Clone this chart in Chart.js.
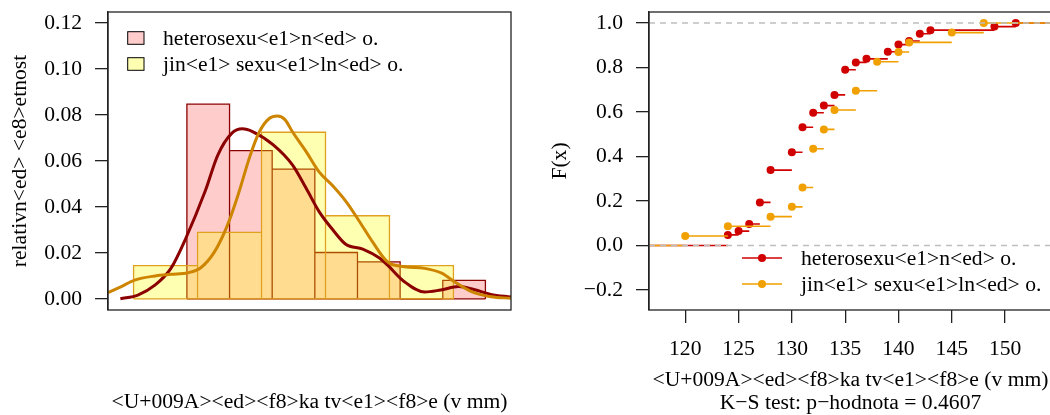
<!DOCTYPE html>
<html><head><meta charset="utf-8">
<script src="https://cdn.jsdelivr.net/npm/chart.js@4.4.1/dist/chart.umd.min.js"></script>
<style>
html,body{margin:0;padding:0;overflow:hidden;background:#fff;width:1050px;height:415px;position:relative;}
#left{position:absolute;left:0;top:0;}
#right{position:absolute;left:525px;top:0;}
</style></head><body>
<canvas id="left" width="525" height="415"></canvas>
<canvas id="right" width="540" height="415"></canvas>
<script>
// ---------- data ----------
const histRedBreaks = [124,128,132,136,140,144,148,152];
const histRedDensity = [0.0847,0.0645,0.0565,0.0202,0.0161,0,0.0081];
const histYelBreaks = [119,125,131,137,143,149];
const histYelDensity = [0.0145,0.0290,0.0725,0.0362,0.0145];

const densRedX = [117.76,119.4,121.0,122.5,123.9,125.7,126.9,128.2,129.2,130.2,132.1,133.9,135.2,136.4,137.7,138.9,140.5,142.1,142.8,144.4,146.3,147.8,149.5,151.0,152.5,154.4];
const densRedY = [0.0001,0.0017,0.006,0.0133,0.0264,0.0467,0.0626,0.072,0.0740,0.0727,0.067,0.0583,0.048,0.038,0.030,0.0238,0.0217,0.0177,0.0148,0.0075,0.0030,0.0039,0.0054,0.0040,0.0020,0.0008];
const densYelX = [116.6,117.85,119.1,121.0,122.5,124.1,125.3,126.6,127.8,128.8,129.9,130.8,131.75,132.5,133.2,133.9,135.2,136.4,137.7,139.0,140.2,141.4,142.8,144.4,146.3,147.9,149.1,150.7,152.5,154.4];
const densYelY = [0.0027,0.0054,0.0082,0.0100,0.0107,0.0114,0.0136,0.0206,0.0320,0.0452,0.0619,0.0727,0.0786,0.0796,0.0780,0.0727,0.0640,0.0553,0.0491,0.0419,0.0336,0.0249,0.0162,0.0140,0.0133,0.0112,0.0075,0.0032,0.0010,0.0003];

const ecdfRedX = [124,125,126,127,128,130,131,132,133,134,135,136,137,139,140,141,142,143,149,151];
const ecdfRedF = [0.048,0.065,0.097,0.194,0.339,0.419,0.532,0.597,0.629,0.677,0.790,0.823,0.839,0.871,0.903,0.919,0.952,0.968,0.984,1.0];
const ecdfYelX = [120,124,128,130,131,132,133,134,136,138,140,141,145,148];
const ecdfYelF = [0.043,0.087,0.130,0.174,0.261,0.435,0.522,0.609,0.696,0.826,0.870,0.913,0.957,1.0];

const refLevels = [0, 1];
const seriesNames = ['heterosexu<e1>n<ed> o.', 'jin<e1> sexu<e1>ln<ed> o.'];

const leftYTicks = [0,0.02,0.04,0.06,0.08,0.10,0.12];
const leftYTickLabels = ['0.00','0.02','0.04','0.06','0.08','0.10','0.12'];
const rightYTicks = [-0.2,0,0.2,0.4,0.6,0.8,1.0];
const rightYTickLabels = ['\u22120.2','0.0','0.2','0.4','0.6','0.8','1.0'];
const rightXTicks = [120,125,130,135,140,145,150];
const rightXTickLabels = ['120','125','130','135','140','145','150'];

const xTitle = '<U+009A><ed><f8>ka tv<e1><f8>e (v mm)';
const leftYTitle = 'relativn<ed> <e8>etnost';
const rightYTitle = 'F(x)';
const ksText = 'K\u2212S test: p\u2212hodnota = 0.4607';

// ---------- styling / layout ----------
const XMIN = 116.6, XMAX = 154.4;
const FS = 21.6;
const FAM = '"Liberation Serif", "Times New Roman", serif';
Chart.defaults.font.family = FAM;
Chart.defaults.font.size = FS;
Chart.defaults.font.lineHeight = 1.0;
Chart.defaults.color = '#000';

const RED_FILL = 'rgba(255,0,0,0.2)', RED_BORDER = '#8B0000';
const YEL_FILL = 'rgba(255,255,0,0.3)', YEL_BORDER = '#E0A020';
const RED_DENS = '#8B0000', YEL_DENS = '#CD8500';
const ECDF_RED = '#D00000', ECDF_YEL = '#F0A000';
const AXIS = '#222';

function histPoints(breaks, dens) {
  const pts = [];
  for (let i = 0; i < dens.length; i++) {
    const a = breaks[i], b = breaks[i+1], h = dens[i];
    pts.push({x:a,y:0},{x:a,y:h},{x:b,y:h},{x:b,y:0},{x:b,y:null});
  }
  return pts;
}
function baselinePoints(breaks) {
  return [{x:breaks[0],y:0},{x:breaks[breaks.length-1],y:0}];
}
function curvePoints(xs, ys) { return xs.map((x,i) => ({x:x, y:ys[i]})); }
function ecdfSegments(xs, fs) {
  const pts = [{x:XMIN,y:0},{x:xs[0],y:0},{x:xs[0],y:null}];
  for (let i = 0; i < xs.length; i++) {
    const end = i + 1 < xs.length ? xs[i+1] : XMAX;
    pts.push({x:xs[i],y:fs[i]},{x:end,y:fs[i]},{x:end,y:null});
  }
  return pts;
}
function ecdfPoints(xs, fs) { return xs.map((x,i) => ({x:x, y:fs[i]})); }
function refPoints(levels) {
  const pts = [];
  levels.forEach(l => pts.push({x:XMIN,y:l},{x:XMAX,y:l},{x:XMAX,y:null}));
  return pts;
}
function noPad(s) { s.paddingTop = 0; s.paddingBottom = 0; s.paddingLeft = 0; s.paddingRight = 0; }

const boxPlugin = {
  id: 'plotbox',
  afterDraw(chart) {
    const {ctx, chartArea:a} = chart;
    ctx.save();
    ctx.strokeStyle = AXIS; ctx.lineWidth = 1.3;
    ctx.strokeRect(a.left, a.top, a.right - a.left, a.bottom - a.top);
    ctx.restore();
  }
};

const leftLegend = {
  id: 'leftLegend',
  afterDraw(chart) {
    const {ctx, chartArea:a} = chart;
    const fills = [RED_FILL, YEL_FILL];
    ctx.save();
    ctx.font = FS + 'px ' + FAM;
    ctx.textBaseline = 'middle'; ctx.textAlign = 'left';
    [26, 52].forEach((dy, i) => {
      const cy = a.top + dy;
      ctx.fillStyle = '#fff';
      ctx.fillRect(a.left + 19.7, cy - 6.3, 16.3, 12.6);
      ctx.fillStyle = fills[i];
      ctx.fillRect(a.left + 19.7, cy - 6.3, 16.3, 12.6);
      ctx.strokeStyle = '#000'; ctx.lineWidth = 1;
      ctx.strokeRect(a.left + 19.7, cy - 6.3, 16.3, 12.6);
      ctx.fillStyle = '#000';
      ctx.fillText(seriesNames[i], a.left + 55, cy + 1);
    });
    ctx.restore();
  }
};

const rightLegend = {
  id: 'rightLegend',
  afterDraw(chart) {
    const {ctx, chartArea:a} = chart;
    const cols = [ECDF_RED, ECDF_YEL];
    ctx.save();
    ctx.font = FS + 'px ' + FAM;
    ctx.textBaseline = 'middle'; ctx.textAlign = 'left';
    [246, 272].forEach((dy, i) => {
      const cy = a.top + dy;
      ctx.strokeStyle = cols[i]; ctx.lineWidth = 1.5;
      ctx.beginPath(); ctx.moveTo(a.left + 93, cy); ctx.lineTo(a.left + 133, cy); ctx.stroke();
      ctx.fillStyle = cols[i];
      ctx.beginPath(); ctx.arc(a.left + 113, cy, 4, 0, Math.PI*2); ctx.fill();
      ctx.fillStyle = '#000';
      ctx.fillText(seriesNames[i], a.left + 152, cy + 1);
    });
    ctx.restore();
  }
};

const baseOpts = {
  responsive: false, animation: false, devicePixelRatio: 1,
  plugins: { legend: {display:false}, tooltip: {enabled:false} },
  elements: { point: { radius: 0 } }
};

// ---------- left: histograms + densities ----------
new Chart(document.getElementById('left'), {
  type: 'line',
  data: { datasets: [
    { label: seriesNames[0], data: histPoints(histRedBreaks, histRedDensity), order: 6,
      borderColor: RED_BORDER, backgroundColor: RED_FILL, borderWidth: 1.3, fill: 'origin', tension: 0, spanGaps: false, pointRadius: 0 },
    { label: 'base1', data: baselinePoints(histRedBreaks), order: 5,
      borderColor: RED_BORDER, borderWidth: 1.3, fill: false, pointRadius: 0 },
    { label: seriesNames[1], data: histPoints(histYelBreaks, histYelDensity), order: 4,
      borderColor: YEL_BORDER, backgroundColor: YEL_FILL, borderWidth: 1.3, fill: 'origin', tension: 0, spanGaps: false, pointRadius: 0 },
    { label: 'base2', data: baselinePoints(histYelBreaks), order: 3,
      borderColor: YEL_BORDER, borderWidth: 1.3, fill: false, pointRadius: 0 },
    { label: 'dens1', data: curvePoints(densRedX, densRedY), order: 2,
      borderColor: RED_DENS, borderWidth: 3, fill: false, cubicInterpolationMode: 'monotone', pointRadius: 0 },
    { label: 'dens2', data: curvePoints(densYelX, densYelY), order: 1,
      borderColor: YEL_DENS, borderWidth: 3, fill: false, cubicInterpolationMode: 'monotone', pointRadius: 0 }
  ]},
  options: Object.assign({}, baseOpts, {
    layout: { padding: { left: 0, top: 12, right: 14, bottom: 0 } },
    scales: {
      x: { type: 'linear', min: XMIN, max: XMAX,
        ticks: { display: false }, grid: { display: false }, border: { display: false },
        title: { display: true, text: xTitle, color: '#000', font: { size: FS, lineHeight: '23px' }, padding: { top: 0, bottom: 1.5 } },
        afterFit(s) { s.height = 105; noPad(s); } },
      y: { type: 'linear', min: -0.0048, max: 0.1248,
        afterBuildTicks(s) { s.ticks = leftYTicks.map(v => ({value: v})); },
        ticks: { autoSkip: false, padding: 13, callback: (v, i) => leftYTickLabels[i] },
        grid: { drawOnChartArea: false, drawTicks: true, tickLength: 13, color: AXIS, lineWidth: 1.3 },
        border: { display: true, color: AXIS, width: 1.3 },
        title: { display: true, text: leftYTitle, color: '#000', font: { size: FS, lineHeight: '25px' }, padding: { top: 7.5, bottom: 0 } },
        afterFit(s) { s.width = 108; noPad(s); } }
    }
  }),
  plugins: [boxPlugin, leftLegend]
});

// ---------- right: ECDFs ----------
new Chart(document.getElementById('right'), {
  type: 'line',
  data: { datasets: [
    { label: seriesNames[0] + ' seg', data: ecdfSegments(ecdfRedX, ecdfRedF), order: 5,
      borderColor: ECDF_RED, borderWidth: 1.6, fill: false, tension: 0, spanGaps: false, pointRadius: 0 },
    { label: seriesNames[0], data: ecdfPoints(ecdfRedX, ecdfRedF), order: 4, showLine: false,
      pointRadius: 4, pointBackgroundColor: ECDF_RED, pointBorderWidth: 0, borderColor: ECDF_RED },
    { label: seriesNames[1] + ' seg', data: ecdfSegments(ecdfYelX, ecdfYelF), order: 3,
      borderColor: ECDF_YEL, borderWidth: 1.6, fill: false, tension: 0, spanGaps: false, pointRadius: 0 },
    { label: seriesNames[1], data: ecdfPoints(ecdfYelX, ecdfYelF), order: 2, showLine: false,
      pointRadius: 4, pointBackgroundColor: ECDF_YEL, pointBorderWidth: 0, borderColor: ECDF_YEL },
    { label: 'ref', data: refPoints(refLevels), order: 1,
      borderColor: '#BEBEBE', borderWidth: 1.5, borderDash: [6, 5], fill: false, spanGaps: false, pointRadius: 0 }
  ]},
  options: Object.assign({}, baseOpts, {
    layout: { padding: { left: 0, top: 12, right: 13, bottom: 0 } },
    scales: {
      x: { type: 'linear', min: XMIN, max: XMAX,
        afterBuildTicks(s) { s.ticks = rightXTicks.map(v => ({value: v})); },
        ticks: { autoSkip: false, maxRotation: 0, padding: 16, callback: (v, i) => rightXTickLabels[i] },
        grid: { drawOnChartArea: false, drawTicks: true, tickLength: 13, color: AXIS, lineWidth: 1.3 },
        border: { display: false },
        title: { display: true, text: [xTitle, ksText], color: '#000', font: { size: FS, lineHeight: '23px' }, padding: { top: 0, bottom: 0.5 } },
        afterFit(s) { s.height = 105; noPad(s); } },
      y: { type: 'linear', min: -0.2896, max: 1.0496,
        afterBuildTicks(s) { s.ticks = rightYTicks.map(v => ({value: v})); },
        ticks: { autoSkip: false, padding: 13, callback: (v, i) => rightYTickLabels[i] },
        grid: { drawOnChartArea: false, drawTicks: true, tickLength: 13, color: AXIS, lineWidth: 1.3 },
        border: { display: true, color: AXIS, width: 1.3 },
        title: { display: true, text: rightYTitle, color: '#000', font: { size: FS, lineHeight: '25px' }, padding: { top: 22.5, bottom: 0 } },
        afterFit(s) { s.width = 124; noPad(s); } }
    }
  }),
  plugins: [boxPlugin, rightLegend]
});
</script>
</body></html>
